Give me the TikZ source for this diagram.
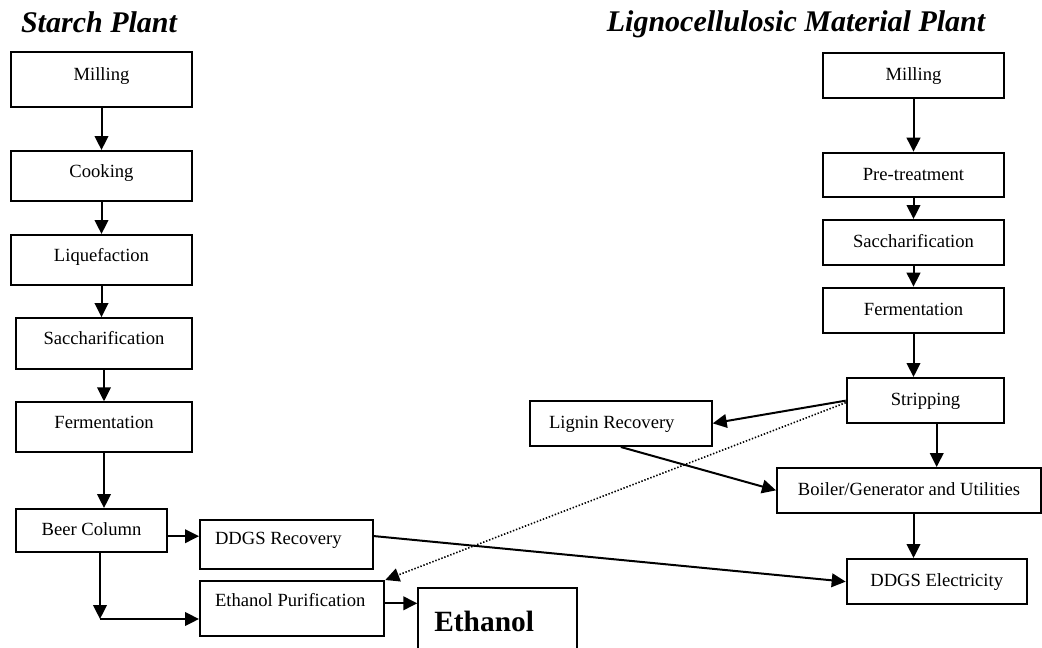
\documentclass[tikz,border=0pt]{standalone}
\usepackage{fontspec}
\setmainfont{Liberation Serif}
\usetikzlibrary{arrows.meta}

\tikzset{
  box/.style={draw, line width=1pt, inner sep=0pt, text height=7pt, text depth=2pt,
    font=\fontsize{9.3}{11}\selectfont},
  topbox/.style={box, text depth=6pt},
  sidebox/.style={box, align=flush left, inner xsep=7.5pt},
  flow/.style={line width=1pt, -{Triangle[length=7pt,width=6.8pt]}},
  dotline/.style={line width=0.8pt, dash pattern=on 0.7pt off 0.9pt,
    -{Triangle[length=7pt,width=6.8pt]}},
  title/.style={anchor=base, font=\fontsize{15}{18}\selectfont\bfseries\itshape},
}

\begin{document}
\begin{tikzpicture}[x=0.5pt,y=-0.5pt]
    \useasboundingbox (0,0) rectangle (1042,647);
    % Draw starch plant
    \node[title] (t1) at (99,32.5) {Starch Plant};
    \node[topbox, minimum width=90.5pt, minimum height=27.5pt] (mill1) at (101.5,79.5) {Milling};
    \node[topbox, minimum width=90.5pt, minimum height=25pt] (cook) at (101.5,176) {Cooking};
    \node[topbox, minimum width=90.5pt, minimum height=25pt] (liq) at (101.5,260) {Liquefaction};
    \node[topbox, minimum width=88pt, minimum height=25.6pt] (sacc1) at (104,343.7) {Saccharification};
    \node[topbox, minimum width=88pt, minimum height=25pt] (ferm1) at (104,427.3) {Fermentation};
    \node[box, minimum width=75.5pt, minimum height=21.7pt] (beer) at (91.5,530.7) {Beer Column};
    \node[sidebox, text width=71.35pt, minimum height=24.65pt, text height=7pt, text depth=7pt]
        (ddgsrec) at (286.35,544.65) {DDGS Recovery};
    \node[sidebox, text width=77.15pt, minimum height=27.5pt, text height=7pt, text depth=9.1pt]
        (ethpur) at (292.15,608.5) {Ethanol Purification};
    \node[sidebox, anchor=north west, inner xsep=8pt, inner ysep=0pt, text width=63.2pt,
        text height=21.65pt, text depth=25pt, font=\fontsize{14.7}{17}\selectfont\bfseries]
        (ethanol) at (417.3,586.7) {Ethanol};
    \coordinate (bend) at (100,619);

    % Draw lignocellulosic plant
    \node[title] (t2) at (796,32) {Lignocellulosic Material Plant};
    \node[box, minimum width=90.5pt, minimum height=22.5pt] (mill2) at (913.5,75.2) {Milling};
    \node[box, minimum width=90.5pt, minimum height=22.3pt] (pre) at (913.5,175) {Pre-treatment};
    \node[box, minimum width=90.5pt, minimum height=22.5pt] (sacc2) at (913.5,242.5) {Saccharification};
    \node[box, minimum width=90.5pt, minimum height=22.65pt] (ferm2) at (913.5,310.35) {Fermentation};
    \node[box, minimum width=78.8pt, minimum height=22.65pt] (strip) at (925.5,400.65) {Stripping};
    \node[sidebox, inner xsep=9.5pt, text width=71.85pt, minimum height=22.65pt]
        (lignin) at (620.85,423.35) {Lignin Recovery};
    \node[box, minimum width=132pt, minimum height=22.35pt] (boiler) at (909,490.35) {Boiler/Generator and Utilities};
    \node[box, minimum width=90pt, minimum height=22.65pt] (elec) at (936.7,581.65) {DDGS Electricity};

    % Arrows, starch side
    \draw[flow] (mill1) -- (cook);
    \draw[flow] (cook) -- (liq);
    \draw[flow] (liq.south) -- (liq.south |- sacc1.north);
    \draw[flow] (sacc1) -- (ferm1);
    \draw[flow] (ferm1.south) -- (ferm1.south |- beer.north);
    \draw[flow] (bend |- beer.south) -- (bend);
    \draw[flow] (bend) -- (bend -| ethpur.west);
    \draw[flow] ([yshift=-2.75pt]beer.east) -- ([yshift=-2.75pt]beer.east -| ddgsrec.west);
    \draw[flow] ([yshift=2.6pt]ethpur.east) -- ([yshift=2.6pt]ethpur.east -| ethanol.west);

    % Arrows, lignocellulosic side
    \draw[flow] (mill2) -- (pre);
    \draw[flow] (pre) -- (sacc2);
    \draw[flow] (sacc2) -- (ferm2);
    \draw[flow] (ferm2.south) -- (ferm2.south |- strip.north);
    \draw[flow] (strip.west) -- (lignin.east);
    \draw[flow] ([xshift=5.6pt]strip.south) -- ([xshift=5.6pt]strip.south |- boiler.north);
    \draw[flow] (lignin.south) -- (boiler.west);
    \draw[flow] (ferm2.south |- boiler.south) -- (ferm2.south |- elec.north);

    % cross links
    \draw[flow] ([yshift=4.3pt]ddgsrec.east) -- (elec.west);
    \draw[dotline] ([yshift=-1pt]strip.west) -- (ethpur.north east);
\end{tikzpicture}
\end{document}
